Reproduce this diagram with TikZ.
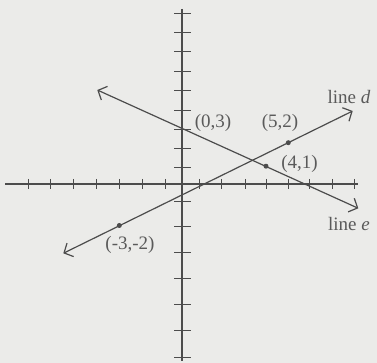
\documentclass[tikz,border=0pt]{standalone}
\usepackage{fontspec}
\setmainfont{Liberation Serif}
\usetikzlibrary{arrows.meta}
\definecolor{ink}{HTML}{4C4C4C}
\definecolor{paper}{HTML}{EBEBE9}
\definecolor{txt}{HTML}{5A5A5A}
\begin{document}
\begin{tikzpicture}[x=1pt,y=-1pt,
 axisline/.style={draw=ink,line width=1.4pt},
 tickmark/.style={draw=ink,line width=0.8pt},
 graphline/.style={draw=ink,line width=1.2pt,
   {Straight Barb[length=7pt,width=15pt,line width=1.2pt]}-{Straight Barb[length=7pt,width=15pt,line width=1.2pt]}},
 lbl/.style={text=txt,font=\fontsize{19}{22}\selectfont,inner sep=0pt},
 pt/.style={circle,fill=ink,inner sep=0pt,minimum size=5pt}]
\fill[paper] (0,0) rectangle (377,363);
\useasboundingbox (0,0) rectangle (377,363);
% axes
\coordinate (xl) at (5,184);
\coordinate (xr) at (358,184);
\coordinate (yt) at (182,9);
\coordinate (yb) at (182,361);
\draw[axisline] (xl) -- (xr);
\draw[axisline] (yt) -- (yb);
% x ticks
\foreach \x in {28.3,50.7,73.3,96.7,119.3,142.7,165.7,199.3,221.7,245,266,288.3,309.3,332.7,354}
  \draw[tickmark] (\x,179) -- (\x,189);
% y ticks
\foreach \y in {13.3,32.5,51.7,71,90.7,110,129.3,148.3,167.7,201,226.7,252.3,278.3,304.5,330.5,357}
  \draw[tickmark] (174,\y) -- (191,\y);
% line e
\coordinate (eL) at (97.3,90);
\coordinate (eR) at (358.3,208.3);
\draw[graphline] (eL) -- (eR);
% line d
\coordinate (dL) at (63.3,253.3);
\coordinate (dR) at (352.7,111);
\draw[graphline] (dL) -- (dR);
% points
\node[pt] (p41) at (266,166.2) {};
\node[pt] (p52) at (288.3,142.7) {};
\node[pt] (pm32) at (119.3,225.5) {};
% labels
\node[lbl] (l03) at (213,123) {(0,3)};
\node[lbl] (l52) at (280,122.5) {(5,2)};
\node[lbl] (l41) at (299.5,163.5) {(4,1)};
\node[lbl] (lm32) at (130,245) {(-3,-2)};
\node[lbl] (ld) at (349,97) {line \textit{d}};
\node[lbl] (le) at (349,224) {line \textit{e}};
\end{tikzpicture}
\end{document}
